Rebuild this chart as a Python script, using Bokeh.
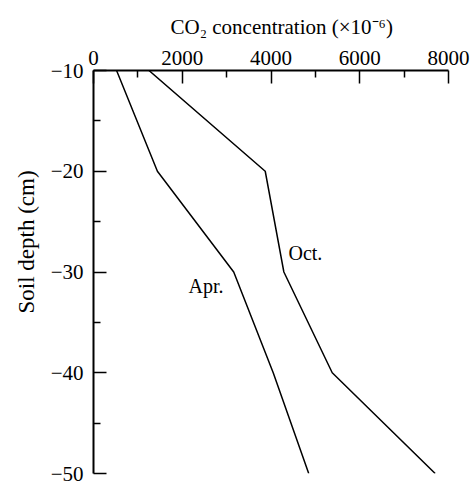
from bokeh.plotting import figure
from bokeh.models import FixedTicker, Label, Range1d, ColumnDataSource, Title
from bokeh.embed import file_html
from bokeh.resources import INLINE

# ---- data ----
depth = [-10, -20, -30, -40, -50]
apr_co2 = [520, 1440, 3160, 4050, 4850]
oct_co2 = [1250, 3870, 4290, 5380, 7700]
x_major = [0, 2000, 4000, 6000, 8000]
x_minor = [1000, 3000, 5000, 7000]
y_major = [-10, -20, -30, -40, -50]
y_minor = [-15, -25, -35, -45]
series_labels = ["Apr.", "Oct."]
x_title = "CO\u2082 concentration (\u00d710\u207b\u2076)"
y_title = "Soil depth (cm)"

FONT = "Liberation Serif"

p = figure(width=476, height=481, output_backend="svg", toolbar_location=None,
           x_axis_location="above", x_range=Range1d(0, 8000), y_range=Range1d(-50, -10),
           min_border_left=93, min_border_right=28, min_border_top=70, min_border_bottom=8)
p.outline_line_color = None
p.grid.visible = False
p.background_fill_color = "white"
p.border_fill_color = "white"

src_apr = ColumnDataSource(dict(x=apr_co2, y=depth))
src_oct = ColumnDataSource(dict(x=oct_co2, y=depth))
p.line("x", "y", source=src_apr, line_color="black", line_width=1.5)
p.line("x", "y", source=src_oct, line_color="black", line_width=1.5)

xa = p.xaxis[0]
xa.ticker = FixedTicker(ticks=x_major, minor_ticks=x_minor)
ya = p.yaxis[0]
ya.ticker = FixedTicker(ticks=y_major, minor_ticks=y_minor)
ya.major_label_overrides = {v: "\u2212" + str(abs(v)) for v in y_major}

for ax in (xa, ya):
    ax.axis_line_width = 2
    ax.axis_line_color = "black"
    ax.major_tick_in = 13
    ax.major_tick_out = 0
    ax.minor_tick_in = 7
    ax.minor_tick_out = 0
    ax.major_tick_line_width = 1.5
    ax.minor_tick_line_width = 1.5
    ax.major_tick_line_color = "black"
    ax.minor_tick_line_color = "black"
    ax.major_label_text_font = FONT
    ax.major_label_text_font_size = "21px"
    ax.major_label_text_color = "black"

xa.major_label_standoff = 6
ya.major_label_standoff = 10

# axis titles placed like the reference (off-centre)
p.title.text = x_title
p.title.align = "left"
p.title.offset = 77
p.title.text_font = FONT
p.title.text_font_size = "21px"
p.title.text_font_style = "normal"
p.title.text_color = "black"
p.title.standoff = 18

p.add_layout(Title(text=y_title, align="left", offset=160, text_font=FONT,
                   text_font_size="23px", text_font_style="normal",
                   text_color="black", standoff=18), "left")

p.add_layout(Label(x=2141, y=-31.34, text=series_labels[0], text_font=FONT,
                   text_font_size="20px", text_color="black", text_baseline="alphabetic"))
p.add_layout(Label(x=4394, y=-28.16, text=series_labels[1], text_font=FONT,
                   text_font_size="20px", text_color="black", text_baseline="alphabetic"))

open("out.html", "w").write(file_html(p, INLINE))
